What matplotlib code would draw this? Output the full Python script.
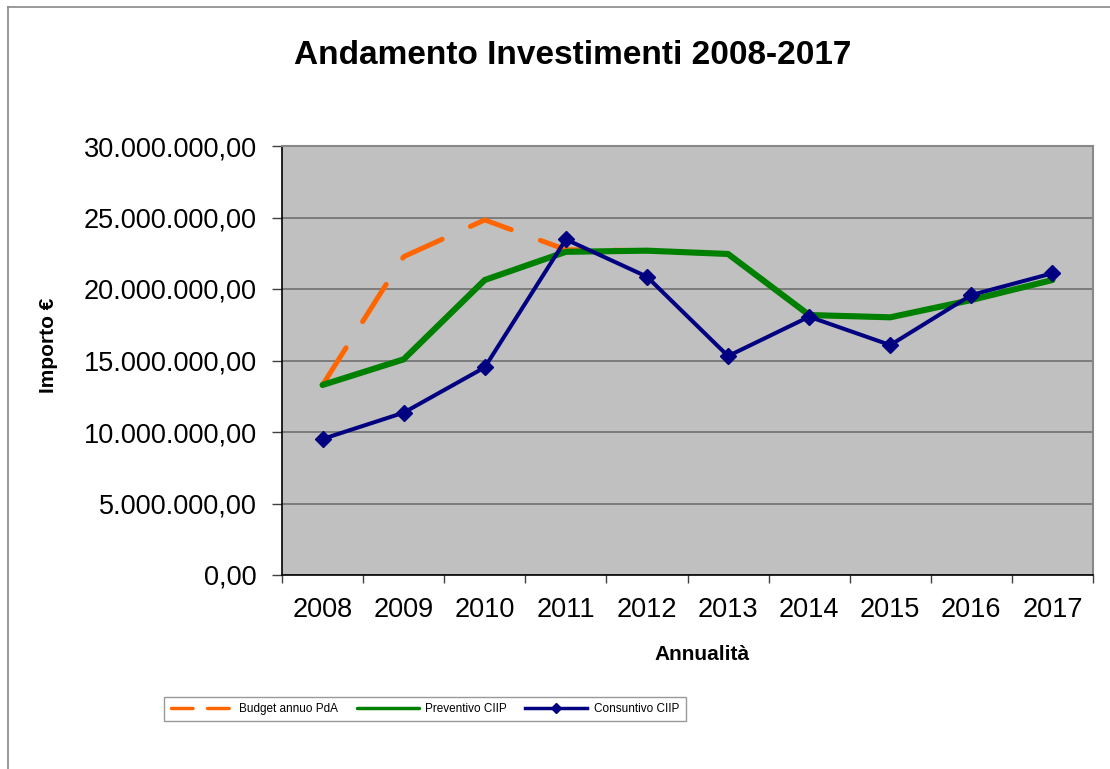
import numpy as np
import matplotlib.pyplot as plt
from matplotlib.lines import Line2D
from matplotlib.ticker import FuncFormatter

plt.rcParams['font.family'] = ['Liberation Sans', 'DejaVu Sans']

anni = ['2008', '2009', '2010', '2011', '2012', '2013', '2014', '2015', '2016', '2017']
budget = [13.29e6, 22.26e6, 24.83e6, 22.75e6, 22.68e6, 22.45e6, 18.18e6, 18.02e6, 19.23e6, 20.63e6]
preventivo = [13.29e6, 15.08e6, 20.63e6, 22.6e6, 22.68e6, 22.45e6, 18.18e6, 18.02e6, 19.23e6, 20.63e6]
consuntivo = [9.51e6, 11.35e6, 14.52e6, 23.47e6, 20.86e6, 15.31e6, 18.06e6, 16.08e6, 19.58e6, 21.1e6]

def fmt_it(v, pos):
    s = f"{v:,.2f}"
    return s.replace(",", "X").replace(".", ",").replace("X", ".")

fig = plt.figure(figsize=(11.1, 7.69), dpi=100)
ax = fig.add_axes([282/1110, 1-575/769, (1093-282)/1110, (575-146)/769])
ax.set_facecolor('#c0c0c0')

x = np.arange(len(anni))
ax.plot(x, budget, color='#ff6600', lw=3.6, dashes=(8.8, 6.2),
        dash_capstyle='round', solid_capstyle='round', label='Budget annuo PdA', zorder=3)
ax.plot(x, preventivo, color='#008000', lw=4.4, solid_capstyle='round',
        solid_joinstyle='round', label='Preventivo CIIP', zorder=4)
ax.plot(x, consuntivo, color='#000080', lw=2.9, marker='D', markersize=8,
        label='Consuntivo CIIP', zorder=5)

ax.set_ylim(0, 30e6)
ax.set_xlim(-0.5, len(anni)-0.5)
ax.set_yticks(np.arange(0, 30e6+1, 5e6))
ax.yaxis.set_major_formatter(FuncFormatter(fmt_it))
ax.set_xticks(np.arange(-0.5, len(anni), 1.0))
ax.set_xticklabels([])
ax.set_xticks(x, minor=True)
ax.set_xticklabels(anni, minor=True)
ax.tick_params(axis='x', which='minor', length=0, labelsize=19.5, pad=16)
ax.tick_params(axis='x', which='major', length=6, color='#404040', width=1)
ax.tick_params(axis='y', length=7, color='#404040', width=1, labelsize=19.5, pad=11)
ax.grid(axis='y', color='#707070', lw=1.2, zorder=1)
ax.set_axisbelow(True)

for s in ['top', 'right']:
    ax.spines[s].set_color('#888888')
    ax.spines[s].set_linewidth(1.5)
for s in ['left', 'bottom']:
    ax.spines[s].set_color('black')
    ax.spines[s].set_linewidth(1.2)

fig.text(573/1110, 1-55/769, 'Andamento Investimenti 2008-2017', ha='center', va='center',
         fontsize=24, fontweight='bold')
fig.text(48/1110, 1-345/769, 'Importo €', ha='center', va='center', rotation=90,
         fontsize=15, fontweight='bold')
fig.text(702/1110, 1-655/769, 'Annualità', ha='center', va='center',
         fontsize=15, fontweight='bold')

leg = fig.legend(loc='center', bbox_to_anchor=(425/1110, 1-709/769), ncol=3,
                 fontsize=8.5, frameon=True, fancybox=False, handlelength=5.25,
                 columnspacing=1.55, handletextpad=0.55, borderpad=0.55)
leg.get_frame().set_edgecolor('#808080')
leg.get_frame().set_linewidth(1)
for h in leg.legend_handles:
    h.set_linewidth(2.5)
    if h.get_marker() == 'D':
        h.set_markersize(5)
leg.legend_handles[0].set_dashes((6.2, 4.2))

fig.add_artist(Line2D([8/1110, 8/1110], [0, 1-7/769], color='#888888', lw=1.2))
fig.add_artist(Line2D([8/1110, 1], [1-7/769, 1-7/769], color='#888888', lw=1.2))

fig.savefig('out.png', dpi=100)
